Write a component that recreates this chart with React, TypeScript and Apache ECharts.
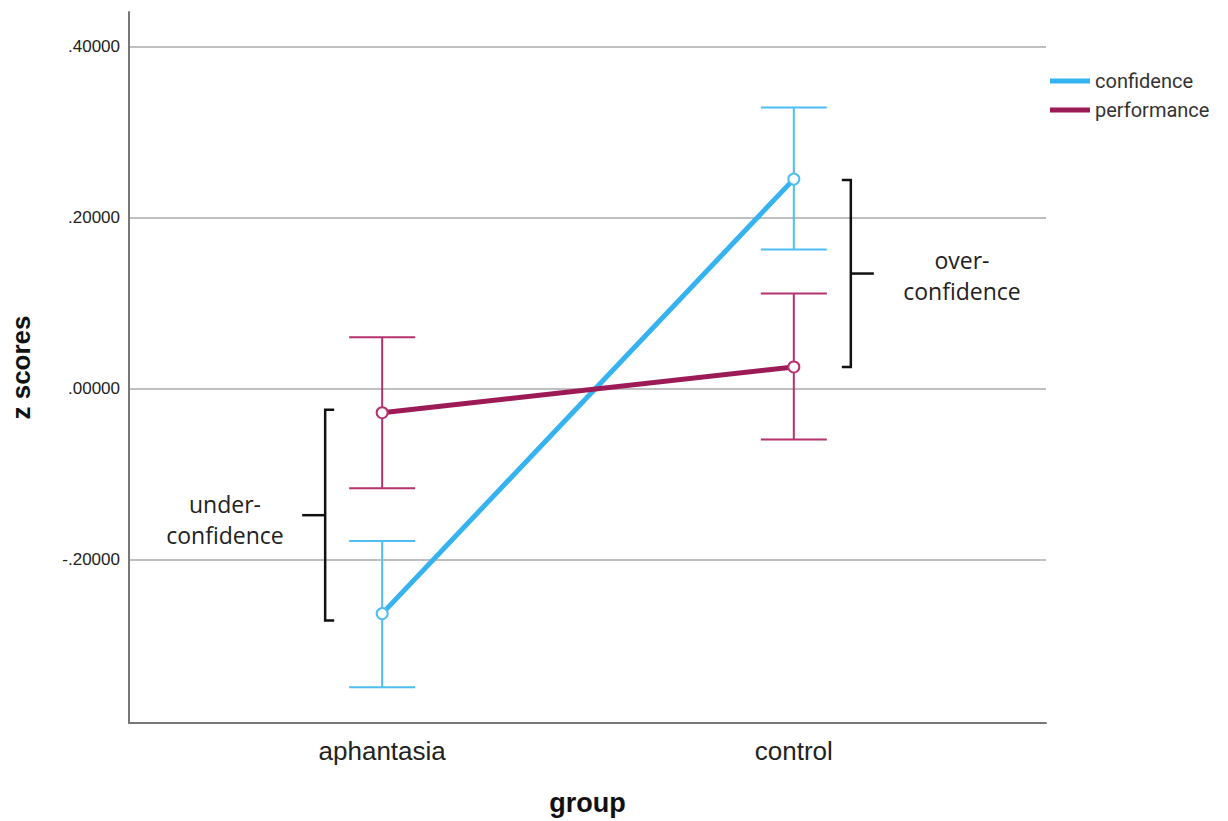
import React, { useEffect, useRef } from "react";
import * as echarts from "echarts";

const groups = ["aphantasia", "control"];
const confidenceMean = [-0.2628, 0.2453];
const confidenceLow = [-0.349, 0.163];
const confidenceHigh = [-0.178, 0.329];
const performanceMean = [-0.0279, 0.0256];
const performanceLow = [-0.1163, -0.0593];
const performanceHigh = [0.0605, 0.1116];
const yTicks = [-0.2, 0, 0.2, 0.4];

const CONF = "#35B2F0";
const CONF_ERR = "#4DBDF3";
const PERF = "#9C1A55";
const PERF_ERR = "#B5326E";

function fmt(v: number) {
  const s = Math.abs(v).toFixed(5).replace(/^0/, "");
  return (v < 0 ? "-" : "") + s;
}

function errorSeries(name: string, low: number[], high: number[], color: string) {
  return {
    type: "custom",
    name: name + "-err",
    z: 2,
    silent: true,
    data: groups.map((_, i) => [i, low[i], high[i]]),
    renderItem: (params: any, api: any) => {
      const x = api.value(0);
      const lo = api.coord([x, api.value(1)]);
      const hi = api.coord([x, api.value(2)]);
      const half = 33;
      const style = { stroke: color, lineWidth: 2, fill: "none" };
      return {
        type: "group",
        children: [
          { type: "line", shape: { x1: lo[0], y1: lo[1], x2: hi[0], y2: hi[1] }, style },
          { type: "line", shape: { x1: lo[0] - half, y1: lo[1], x2: lo[0] + half, y2: lo[1] }, style },
          { type: "line", shape: { x1: hi[0] - half, y1: hi[1], x2: hi[0] + half, y2: hi[1] }, style },
        ],
      };
    },
  };
}

function bracketSeries() {
  const brackets = [
    [0, confidenceMean[0], performanceMean[0], -1],
    [1, confidenceMean[1], performanceMean[1], 1],
  ];
  return {
    type: "custom",
    name: "brackets",
    silent: true,
    z: 3,
    data: brackets,
    renderItem: (params: any, api: any) => {
      const x = api.value(0);
      const dir = api.value(3);
      const a = api.coord([x, api.value(1)]);
      const b = api.coord([x, api.value(2)]);
      const bx = a[0] + dir * 57;
      const y1 = Math.min(a[1], b[1]) + (dir < 0 ? -3 : 1);
      const y2 = Math.max(a[1], b[1]) + (dir < 0 ? 7 : 0);
      const mid = (y1 + y2) / 2;
      const cap = 9;
      const style = { stroke: "#111", lineWidth: 2.5, fill: "none" };
      return {
        type: "group",
        children: [
          {
            type: "polyline",
            shape: { points: [[bx - dir * cap, y1], [bx, y1], [bx, y2], [bx - dir * cap, y2]] },
            style,
          },
          { type: "line", shape: { x1: bx, y1: mid, x2: bx + dir * 23, y2: mid }, style },
        ],
      };
    },
  };
}

export default function App() {
  const ref = useRef<HTMLDivElement>(null);
  useEffect(() => {
    const chart = echarts.init(ref.current!, null, { renderer: "svg" });
    const option: any = {
      animation: false,
      backgroundColor: "#fff",
      grid: { left: 126, right: 182, top: 12, bottom: 94, containLabel: false },
      legend: {
        orient: "vertical",
        left: 1045,
        top: 66,
        itemWidth: 40,
        itemHeight: 5,
        itemGap: 9,
        icon: "rect",
        textStyle: { fontFamily: "Roboto, Liberation Sans, sans-serif", fontSize: 20, color: "#333" },
        data: [
          { name: "confidence", itemStyle: { color: CONF } },
          { name: "performance", itemStyle: { color: PERF } },
        ],
      },
      xAxis: {
        type: "value",
        min: -0.615,
        max: 1.6126,
        name: "group",
        nameLocation: "middle",
        nameGap: 66,
        nameTextStyle: { fontFamily: "Liberation Sans, Arial, sans-serif", fontSize: 27, fontWeight: "bold", color: "#111" },
        axisLine: { show: true, onZero: false, lineStyle: { color: "#777", width: 2 } },
        axisTick: { show: false, customValues: [0, 1] },
        splitLine: { show: false },
        axisLabel: {
          customValues: [0, 1],
          margin: 15,
          fontFamily: "Liberation Sans, Arial, sans-serif",
          fontSize: 26,
          color: "#222",
          formatter: (v: number) => groups[Math.round(v)] ?? "",
        },
      },
      yAxis: {
        type: "value",
        min: -0.3907,
        max: 0.4407,
        name: "z scores",
        nameLocation: "middle",
        nameRotate: 90,
        nameGap: 95,
        nameTextStyle: { fontFamily: "Liberation Sans, Arial, sans-serif", fontSize: 26, fontWeight: "bold", color: "#111" },
        axisLine: { show: true, onZero: false, lineStyle: { color: "#777", width: 2 } },
        axisTick: { show: false, customValues: yTicks },
        splitLine: { show: true, lineStyle: { color: "#aaa", width: 1.5 } },
        axisLabel: {
          customValues: yTicks,
          margin: 9,
          fontFamily: "Liberation Sans, Arial, sans-serif",
          fontSize: 17,
          color: "#222",
          formatter: (v: number) => fmt(v),
        },
      },
      graphic: [
        {
          type: "text",
          style: {
            text: "under-\nconfidence",
            x: 225,
            y: 488,
            textAlign: "center",
            font: "23px 'Open Sans', sans-serif",
            lineHeight: 31,
            fill: "#222",
          },
        },
        {
          type: "text",
          style: {
            text: "over-\nconfidence",
            x: 962,
            y: 244,
            textAlign: "center",
            font: "23px 'Open Sans', sans-serif",
            lineHeight: 31,
            fill: "#222",
          },
        },
      ],
      series: [
        errorSeries("confidence", confidenceLow, confidenceHigh, CONF_ERR),
        errorSeries("performance", performanceLow, performanceHigh, PERF_ERR),
        {
          type: "line",
          name: "confidence",
          z: 4,
          data: groups.map((_, i) => [i, confidenceMean[i]]),
          lineStyle: { color: CONF, width: 5 },
          itemStyle: { color: CONF_ERR, borderWidth: 1.5 },
          symbol: "emptyCircle",
          symbolSize: 11,
        },
        {
          type: "line",
          name: "performance",
          z: 4,
          data: groups.map((_, i) => [i, performanceMean[i]]),
          lineStyle: { color: PERF, width: 5 },
          itemStyle: { color: PERF_ERR, borderWidth: 1.5 },
          symbol: "emptyCircle",
          symbolSize: 11,
        },
        bracketSeries(),
      ],
    };
    chart.setOption(option);
    return () => chart.dispose();
  }, []);
  return (
    <div
      ref={ref}
      style={{ position: "fixed", left: 0, top: 0, width: 1228, height: 821, background: "#fff" }}
    />
  );
}
